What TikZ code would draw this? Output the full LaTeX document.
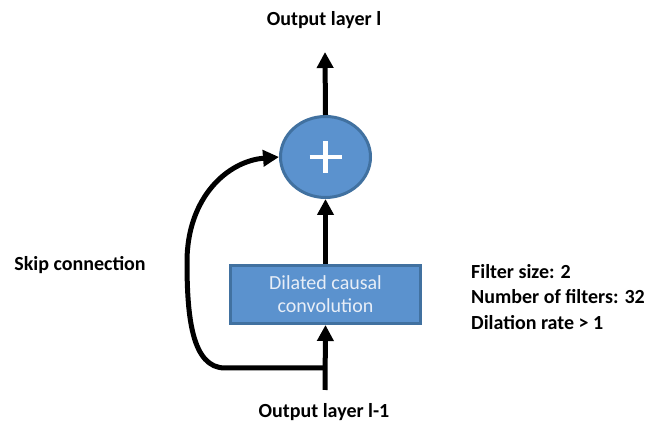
\documentclass[tikz,border=0pt]{standalone}
\usepackage{fontspec}
\setmainfont{Carlito}
\usetikzlibrary{arrows.meta,shapes.geometric}
\definecolor{blockfill}{RGB}{91,146,206}
\definecolor{blockedge}{RGB}{65,113,160}
\definecolor{blocktext}{RGB}{232,238,247}
\tikzset{
  label text/.style={font=\fontsize{20}{24}\selectfont\bfseries, inner sep=0pt},
  flow/.style={line width=5pt, -{Triangle[length=16pt,width=16pt]}},
  block/.style={draw=blockedge, line width=3pt, fill=blockfill,
    text=blocktext, font=\fontsize{20}{24}\selectfont, align=center,
    minimum width=190pt, minimum height=58pt, inner sep=0pt},
  adder/.style={ellipse, draw=blockedge, line width=3pt, fill=blockfill,
    minimum width=90pt, minimum height=81pt, inner sep=0pt}
}
\begin{document}
\begin{tikzpicture}[x=1pt,y=1pt]
\useasboundingbox (0,0) rectangle (656,427);
% labels
\node[label text] (top) at (324,407) {Output layer l};
\node[label text] (bottom) at (324,15) {Output layer l-1};
\node[label text] (skip) at (80,162) {Skip connection};
\node[label text, align=left, anchor=west, font=\fontsize{20}{25.5}\selectfont\bfseries]
  (params) at (471,130) {Filter size: 2\\Number of filters: 32\\Dilation rate > 1};
% blocks
\node[block] (conv) at (325.5,132.5) {Dilated causal\\[-1pt]convolution};
\node[adder] (sum) at (325.5,270) {};
\draw[white, line width=4.5pt] ([xshift=-16pt]sum.center) -- ([xshift=16pt]sum.center);
\draw[white, line width=4.5pt] ([yshift=-16pt]sum.center) -- ([yshift=16pt]sum.center);
% connectors
\coordinate (input) at (325,37);
\coordinate (split) at (325,59);
\coordinate (outtip) at (325,375);
\draw[flow] (input) -- (conv.south);
\draw[flow] (conv.north) -- (sum.south);
\draw[flow] (sum.north) -- (outtip);
% skip path: along the bottom, up the left side, into the adder
\draw[flow] (split) -- (225,59)
  .. controls (192,59) and (187,110) .. (187,165)
  .. controls (187,230) and (228,266) .. (sum.west);
\end{tikzpicture}
\end{document}
